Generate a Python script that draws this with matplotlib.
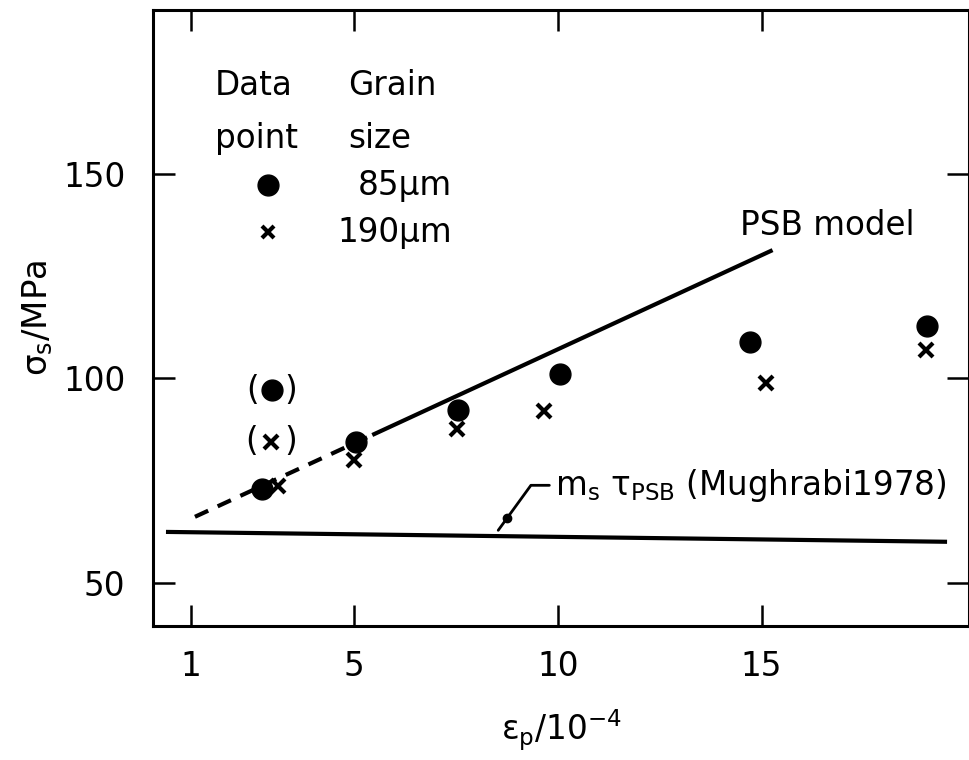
import matplotlib
matplotlib.use("Agg")
import matplotlib.pyplot as plt

# ---- data ----
x_85 = [2.74, 5.04, 7.55, 10.05, 14.72, 19.07]
y_85 = [72.9, 84.4, 92.2, 101.0, 108.9, 112.7]
x_190 = [3.13, 5.00, 7.53, 9.66, 15.11, 19.03]
y_190 = [73.6, 80.0, 87.5, 91.9, 98.8, 106.8]
x_85_paren = [2.98]
y_85_paren = [97.1]
x_190_paren = [2.96]
y_190_paren = [84.4]

psb_dash_x = [1.10, 5.45]
psb_dash_y = [66.1, 86.1]
psb_solid_x = [5.45, 15.27]
psb_solid_y = [86.1, 131.3]

mugh_x = [0.44, 19.5]
mugh_y = [62.4, 60.0]

xticks = [1, 5, 10, 15]
yticks = [50, 100, 150]

plt.rcParams['font.family'] = ['DejaVu Sans']
plt.rcParams['mathtext.fontset'] = 'dejavusans'

FS = 23.5

fig = plt.figure(figsize=(9.7, 7.6), dpi=100)
ax = fig.add_axes([0.1577, 0.1763, 0.8413, 0.8105])
ax.set_xlim(0.07, 20.09)
ax.set_ylim(39.4, 190.0)

for s in ax.spines.values():
    s.set_linewidth(2.2)

ax.set_xticks(xticks)
ax.set_xticklabels([str(t) for t in xticks])
ax.set_yticks(yticks)
ax.set_yticklabels([str(t) for t in yticks])
ax.tick_params(axis='x', direction='in', length=15, width=1.8, top=True,
               labelsize=FS, pad=17)
ax.tick_params(axis='y', direction='in', length=16, width=1.8, right=True,
               labelsize=FS, pad=20)

ax.set_xlabel(r'$\mathregular{\epsilon_p}$/10$^{\mathregular{-4}}$', fontsize=FS, labelpad=18)
ax.set_ylabel(r'$\mathregular{\sigma_s}$/MPa', fontsize=FS + 1, labelpad=6)

# model lines
ax.plot(psb_dash_x, psb_dash_y, color='black', lw=3, ls=(0, (3.5, 2.5)))
ax.plot(psb_solid_x, psb_solid_y, color='black', lw=3, solid_capstyle='butt')
ax.plot(mugh_x, mugh_y, color='black', lw=3)

# data points
MS_O, MS_X = 15, 10
ax.plot(x_85, y_85, ls='none', marker='o', ms=MS_O, color='black')
ax.plot(x_190, y_190, ls='none', marker='x', ms=MS_X, mew=3, color='black')
ax.plot(x_85_paren, y_85_paren, ls='none', marker='o', ms=MS_O, color='black')
ax.plot(x_190_paren, y_190_paren, ls='none', marker='x', ms=MS_X, mew=3, color='black')
for px, py in [(x_85_paren[0], y_85_paren[0]), (x_190_paren[0], y_190_paren[0])]:
    ax.annotate('(', xy=(px, py), xytext=(-14, 0), textcoords='offset points',
                ha='center', va='center', fontsize=FS)
    ax.annotate(')', xy=(px, py), xytext=(14, 0), textcoords='offset points',
                ha='center', va='center', fontsize=FS)

# legend block
ax.text(1.59, 171.6, 'Data', ha='left', va='center', fontsize=FS)
ax.text(1.59, 158.7, 'point', ha='left', va='center', fontsize=FS)
ax.text(4.85, 171.6, 'Grain', ha='left', va='center', fontsize=FS)
ax.text(4.85, 158.7, 'size', ha='left', va='center', fontsize=FS)
ax.plot([2.89], [147.2], ls='none', marker='o', ms=MS_O, color='black')
ax.plot([2.89], [135.7], ls='none', marker='x', ms=MS_X - 1, mew=3, color='black')
ax.text(5.1, 147.2, '85µm', ha='left', va='center', fontsize=FS)
ax.text(4.6, 135.7, '190µm', ha='left', va='center', fontsize=FS)

# annotations
ax.text(14.47, 137.4, 'PSB model', ha='left', va='center', fontsize=FS)
ax.annotate(r'$\mathregular{m_s}$ $\mathregular{\tau_{PSB}}$ (Mughrabi1978)',
            xy=(8.54, 62.8), xytext=(9.93, 73.8), ha='left', va='center',
            fontsize=FS,
            arrowprops=dict(arrowstyle='-', lw=2, color='black',
                            connectionstyle='angle,angleA=0,angleB=54,rad=0',
                            shrinkA=2, shrinkB=0))
ax.plot([8.75], [65.8], ls='none', marker='o', ms=6, color='black')

fig.savefig('out.png', dpi=100)
